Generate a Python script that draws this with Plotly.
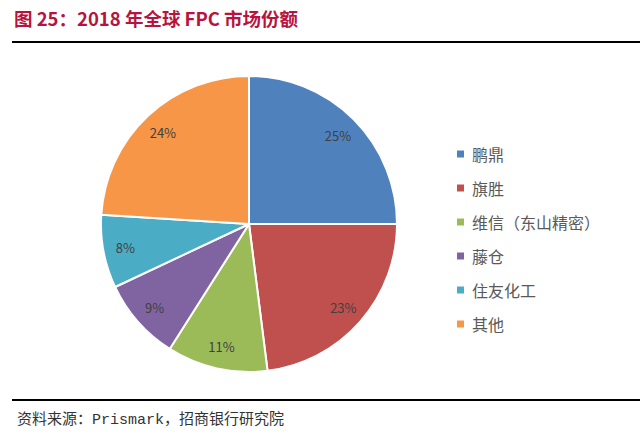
import plotly.graph_objects as go

companies = ["鹏鼎", "旗胜", "维信（东山精密）", "藤仓", "住友化工", "其他"]
shares = [25, 23, 11, 9, 8, 24]
colors = ["#4F81BD", "#C0504D", "#9BBB59", "#8064A2", "#4BACC6", "#F79646"]

title_text = "图 25：2018 年全球 FPC 市场份额"
source_text = "资料来源：Prismark，招商银行研究院"

W, H = 640, 437
FONT = "Noto Sans CJK SC"
pie_domain = dict(x=[101 / W, 397 / W], y=[(H - 372) / H, (H - 76) / H])

fig = go.Figure()
fig.add_trace(go.Pie(
    labels=companies,
    values=shares,
    marker=dict(colors=colors, line=dict(color="white", width=2)),
    sort=False,
    direction="clockwise",
    rotation=0,
    textinfo="none",
    hoverinfo="label+percent",
    showlegend=False,
    domain=pie_domain,
))
# transparent ring on top, only to push the percent labels out toward the rim
fig.add_trace(go.Pie(
    labels=companies,
    values=shares,
    hole=0.7,
    marker=dict(colors=["rgba(0,0,0,0)"] * len(shares), line=dict(width=0)),
    sort=False,
    direction="clockwise",
    rotation=0,
    texttemplate="%{value}%",
    textposition="inside",
    insidetextorientation="horizontal",
    textfont=dict(family=FONT, size=13, color="#404040"),
    hoverinfo="skip",
    showlegend=False,
    domain=pie_domain,
))

# hand-drawn legend (wider row spacing than plotly's own legend)
shapes = []
annotations = []
for i, (name, c) in enumerate(zip(companies, colors)):
    yc = 154 + i * 34
    shapes.append(dict(type="rect", xref="paper", yref="paper",
                       x0=457 / W, x1=464 / W,
                       y0=(H - yc - 3.5) / H, y1=(H - yc + 3.5) / H,
                       fillcolor=c, line=dict(width=0)))
    annotations.append(dict(text=name, xref="paper", yref="paper",
                            x=470 / W, y=(H - yc) / H, xanchor="left", yanchor="middle",
                            showarrow=False, font=dict(family=FONT, size=16, color="#595959")))

# header / footer rules
shapes.append(dict(type="line", xref="paper", yref="paper",
                   x0=12 / W, x1=1, y0=(H - 42) / H, y1=(H - 42) / H,
                   line=dict(color="black", width=2)))
shapes.append(dict(type="line", xref="paper", yref="paper",
                   x0=12 / W, x1=1, y0=(H - 400) / H, y1=(H - 400) / H,
                   line=dict(color="black", width=2)))

annotations.append(dict(text="<b>" + title_text + "</b>", xref="paper", yref="paper",
                        x=12 / W, y=(H - 18) / H, xanchor="left", yanchor="middle",
                        showarrow=False, font=dict(family=FONT, size=18.5, color="#B8133E")))
annotations.append(dict(text=source_text, xref="paper", yref="paper",
                        x=15 / W, y=(H - 419) / H, xanchor="left", yanchor="middle",
                        showarrow=False,
                        font=dict(family="Liberation Mono, " + FONT, size=15, color="#333333")))

fig.update_layout(
    width=W, height=H,
    margin=dict(l=0, r=0, t=0, b=0),
    paper_bgcolor="white",
    plot_bgcolor="white",
    shapes=shapes,
    annotations=annotations,
)

fig.write_html("out.html", config={"displayModeBar": False},
               post_script="document.body.style.margin='0px';")
